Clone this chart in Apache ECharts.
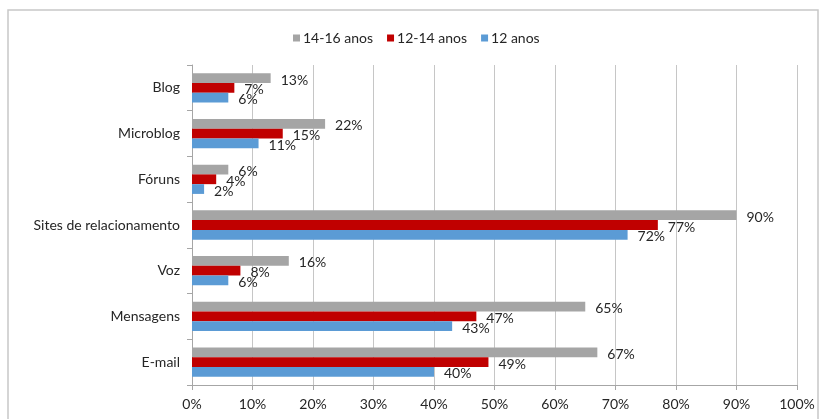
<!DOCTYPE html>
<html>
<head>
<meta charset="utf-8">
<script src="https://cdn.jsdelivr.net/npm/echarts@6/dist/echarts.min.js"></script>
<style>
html, body { margin: 0; padding: 0; background: #fff; }
#main { width: 824px; height: 419px; }
</style>
</head>
<body>
<div id="main"></div>
<script>
// categorias (de baixo para cima, como o eixo de categorias do echarts)
var categorias = ['E-mail', 'Mensagens', 'Voz', 'Sites de relacionamento', 'Fóruns', 'Microblog', 'Blog'];
var idade12 = [40, 43, 6, 72, 2, 11, 6];
var idade1214 = [49, 47, 8, 77, 4, 15, 7];
var idade1416 = [67, 65, 16, 90, 6, 22, 13];
var nomesSeries = ['14-16 anos', '12-14 anos', '12 anos'];
var xTicks = [0, 10, 20, 30, 40, 50, 60, 70, 80, 90, 100];

var fonte = 'Lato, "Open Sans", sans-serif';

var myChart = echarts.init(document.getElementById('main'));

function rotulo() {
	return {
		show: true,
		position: 'right',
		distance: 10,
		formatter: '{c}%',
		fontFamily: fonte,
		fontSize: 14,
		color: '#262626',
		offset: [0, 2]
	};
}

var option = {
	animation: false,
	textStyle: { fontFamily: fonte },
	graphic: [{
		type: 'rect',
		shape: { x: 8, y: 10, width: 810, height: 430 },
		style: { fill: 'none', stroke: '#c8c8c8', lineWidth: 1.5 },
		silent: true
	}],
	legend: {
		data: nomesSeries,
		left: 288,
		top: 26,
		icon: 'rect',
		itemWidth: 7,
		itemHeight: 7,
		itemGap: 14,
		textStyle: { fontFamily: fonte, fontSize: 14, color: '#262626', padding: [0, 0, 0, -2] }
	},
	grid: {
		left: 192,
		right: 27,
		top: 65,
		bottom: 34
	},
	xAxis: {
		type: 'value',
		min: 0,
		max: 100,
		interval: 10,
		axisLine: { show: true, lineStyle: { color: '#a6a6a6' } },
		axisTick: { show: true, length: 5, lineStyle: { color: '#a6a6a6' } },
		splitLine: { show: true, lineStyle: { color: '#c6c6c6' } },
		axisLabel: {
			margin: 12,
			fontFamily: fonte,
			fontSize: 14,
			color: '#262626',
			formatter: function (v) { return xTicks.indexOf(v) >= 0 ? v + '%' : ''; }
		}
	},
	yAxis: {
		type: 'category',
		data: categorias,
		axisLine: { show: true, lineStyle: { color: '#a6a6a6' } },
		axisTick: { show: true, length: 5, lineStyle: { color: '#a6a6a6' } },
		axisLabel: {
			margin: 12,
			fontFamily: fonte,
			fontSize: 14,
			color: '#262626'
		}
	},
	series: [{
		name: '14-16 anos',
		type: 'bar',
		data: idade1416,
		barGap: '0%',
		barCategoryGap: '36%',
		itemStyle: { color: '#a5a5a5' },
		label: rotulo()
	}, {
		name: '12-14 anos',
		type: 'bar',
		data: idade1214,
		barGap: '0%',
		barCategoryGap: '36%',
		itemStyle: { color: '#c00000' },
		label: rotulo()
	}, {
		name: '12 anos',
		type: 'bar',
		data: idade12,
		barGap: '0%',
		barCategoryGap: '36%',
		itemStyle: { color: '#5b9bd5' },
		label: rotulo()
	}]
};
myChart.setOption(option);
</script>
</body>
</html>
